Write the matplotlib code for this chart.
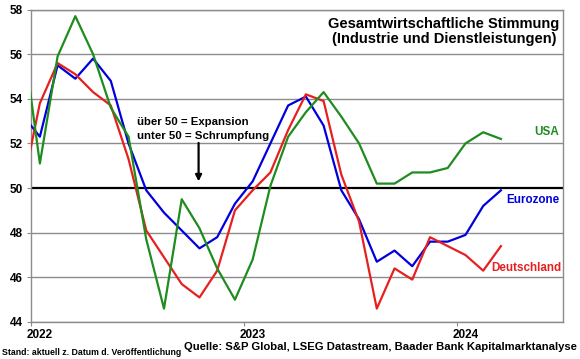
import numpy as np
import pandas as pd
import matplotlib
matplotlib.use("Agg")
import matplotlib.pyplot as plt

plt.rcParams['font.family'] = ['Liberation Sans', 'DejaVu Sans']
plt.rcParams['font.weight'] = 'bold'

# monthly composite PMI, Dec 2021 .. Mar 2024
months = pd.date_range('2021-12-01', '2024-03-01', freq='MS')
usa = [57.0, 51.1, 55.9, 57.7, 56.0, 53.6, 52.3, 47.7, 44.6, 49.5, 48.2, 46.4, 45.0,
       46.8, 50.1, 52.3, 53.4, 54.3, 53.2, 52.0, 50.2, 50.2, 50.7, 50.7, 50.9,
       52.0, 52.5, 52.2]
eurozone = [53.3, 52.3, 55.5, 54.9, 55.8, 54.8, 52.0, 49.9, 48.9, 48.1, 47.3, 47.8, 49.3,
            50.3, 52.0, 53.7, 54.1, 52.8, 49.9, 48.6, 46.7, 47.2, 46.5, 47.6, 47.6,
            47.9, 49.2, 49.9]
deutschland = [49.9, 53.8, 55.6, 55.1, 54.3, 53.7, 51.3, 48.1, 46.9, 45.7, 45.1, 46.3, 49.0,
               49.9, 50.7, 52.6, 54.2, 53.9, 50.6, 48.5, 44.6, 46.4, 45.9, 47.8, 47.4,
               47.0, 46.3, 47.4]
years = ['2022', '2023', '2024']

# months since Jan 2022, plotted mid-month
x = np.array([(d.year - 2022) * 12 + d.month - 1 for d in months]) + 0.5

green = '#1e8c1e'
blue = '#0000dd'
red = '#e62020'

fig = plt.figure(figsize=(5.8, 3.59), dpi=100)
ax = fig.add_axes([31 / 580, 1 - 322 / 359, 532 / 580, 312.5 / 359])

for v in range(44, 59, 2):
    if v != 50:
        ax.axhline(v, color='#8c8c8c', lw=1.0, zorder=1)
ax.axhline(50, color='black', lw=1.6, zorder=2)

ax.plot(x, eurozone, color=blue, lw=1.6, zorder=3)
ax.plot(x, deutschland, color=red, lw=1.6, zorder=3)
ax.plot(x, usa, color=green, lw=1.6, zorder=3)

ax.set_xlim(0, 30)
ax.set_ylim(44, 58)
ax.set_yticks(range(44, 59, 2))
ax.set_yticklabels([str(v) for v in range(44, 59, 2)], fontsize=8.5, fontweight='bold')
ax.set_xticks([0, 12, 24])
ax.set_xticklabels([])
ax.set_xticks([0.5, 12.5, 24.5], minor=True)
ax.set_xticklabels(years, minor=True, fontsize=8.5, fontweight='bold')
ax.tick_params(axis='x', which='minor', length=0, pad=5)
ax.tick_params(axis='x', which='major', length=3, color='#8c8c8c')
ax.tick_params(axis='y', length=3, color='#8c8c8c', pad=3)
for s in ax.spines.values():
    s.set_color('#8c8c8c')
    s.set_linewidth(1.0)

ax.text(0.776, 0.975, 'Gesamtwirtschaftliche Stimmung\n(Industrie und Dienstleistungen)',
        transform=ax.transAxes, ha='center', va='top', fontsize=10.5,
        fontweight='bold', linespacing=1.1)

ax.text(6.0, 52.65, 'über 50 = Expansion\nunter 50 = Schrumpfung', ha='left', va='center',
        fontsize=8.2, fontweight='bold', linespacing=1.4)
ax.annotate('', xy=(9.45, 50.3), xytext=(9.45, 52.02),
            arrowprops=dict(arrowstyle='-|>', color='black', lw=1.6, mutation_scale=9,
                            shrinkA=0, shrinkB=0))

ax.text(29.8, 52.5, 'USA', color=green, ha='right', va='center', fontsize=8.4, fontweight='bold')
ax.text(29.8, 49.45, 'Eurozone', color=blue, ha='right', va='center', fontsize=8.4, fontweight='bold')
ax.text(29.9, 46.4, 'Deutschland', color=red, ha='right', va='center', fontsize=8.4, fontweight='bold')

fig.text(2 / 580, 1 - 352.5 / 359, 'Stand: aktuell z. Datum d. Veröffentlichung',
         ha='left', va='center', fontsize=6.3, fontweight='bold')
fig.text(577 / 580, 1 - 347.5 / 359, 'Quelle: S&P Global, LSEG Datastream, Baader Bank Kapitalmarktanalyse',
         ha='right', va='center', fontsize=8.1, fontweight='bold')

fig.savefig('out.png', dpi=100)
